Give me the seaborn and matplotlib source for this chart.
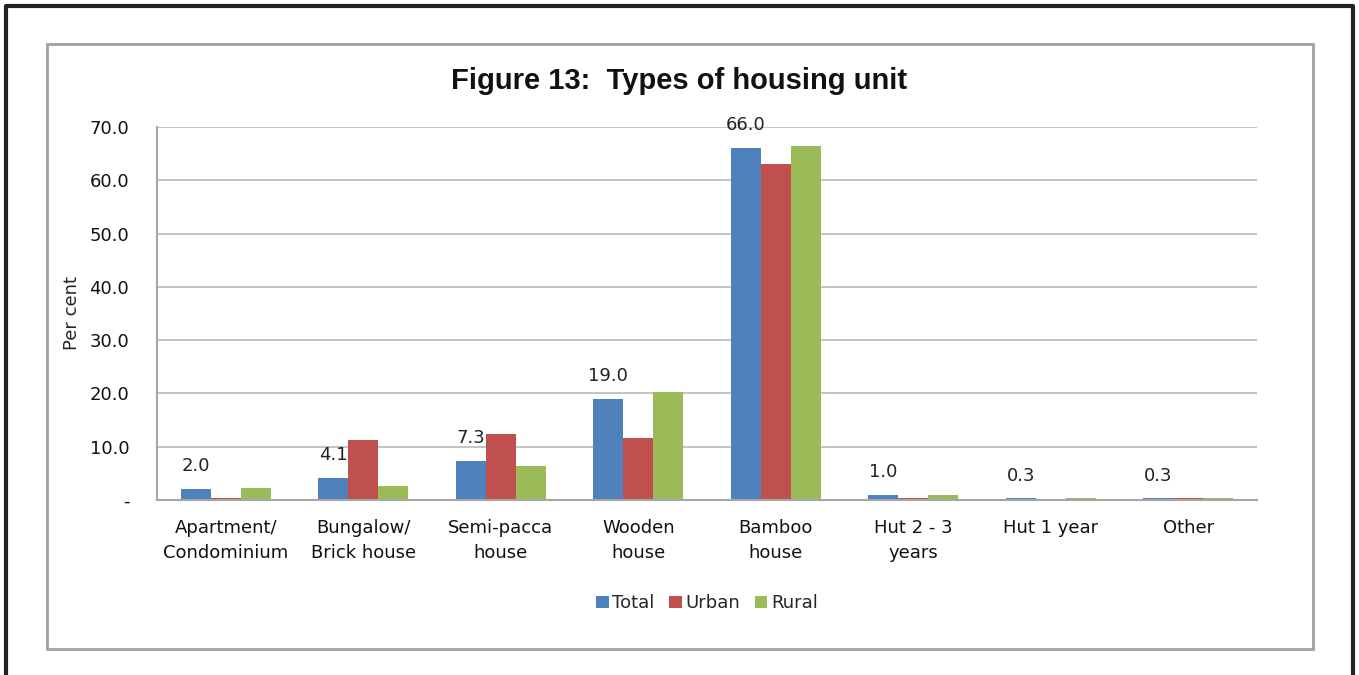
import seaborn as sns
import pandas as pd
from matplotlib import pyplot as plt
from matplotlib.patches import Rectangle
from matplotlib.lines import Line2D

# Data
categories = ['Apartment/\nCondominium', 'Bungalow/\nBrick house', 'Semi-pacca\nhouse',
              'Wooden\nhouse', 'Bamboo\nhouse', 'Hut 2 - 3\nyears', 'Hut 1 year', 'Other']
total = [2.0, 4.1, 7.3, 19.0, 66.0, 1.0, 0.3, 0.3]
urban = [0.4, 11.2, 12.4, 11.6, 63.1, 0.4, 0.05, 0.3]
rural = [2.3, 2.7, 6.4, 20.3, 66.5, 0.9, 0.3, 0.3]
series = ['Total', 'Urban', 'Rural']
yticks = [0, 10, 20, 30, 40, 50, 60, 70]

df = pd.DataFrame({
    'Type': categories * 3,
    'Area': [s for s in series for _ in categories],
    'Value': total + urban + rural,
})

sns.set_style('white')
plt.rcParams['font.family'] = ['DejaVu Sans']
fs = 13

fig = plt.figure(figsize=(13.59, 6.75), dpi=100)
ax = fig.add_axes([157 / 1359, 1 - 500 / 675, 1100 / 1359, 373 / 675])

palette = {'Total': '#4F81BD', 'Urban': '#C0504D', 'Rural': '#9BBB59'}
sns.barplot(data=df, x='Type', y='Value', hue='Area', palette=palette,
            width=0.655, ax=ax, saturation=1, linewidth=0, legend=True)

# data labels on Total only
ax.bar_label(ax.containers[0], fmt='%.1f', padding=10, fontsize=fs, color='#222222')

ax.set_ylim(0, 70)
ax.set_yticks(yticks)
ax.set_yticklabels(['-' if v == 0 else f'{v:.1f}' for v in yticks])
ax.yaxis.grid(True, color='#BFBFBF', linewidth=1.3)
ax.set_axisbelow(True)
ax.tick_params(axis='y', length=0, pad=20, labelsize=fs, labelcolor='#111111')
ax.tick_params(axis='x', length=0, pad=14, labelsize=fs, labelcolor='#111111')
for lbl in ax.get_xticklabels():
    lbl.set_linespacing(1.5)
ax.set_xlabel('')
ax.set_ylabel('Per cent', fontsize=fs, labelpad=6)
for side in ['top', 'right']:
    ax.spines[side].set_visible(False)
for side in ['left', 'bottom']:
    ax.spines[side].set_color('#A6A6A6')
    ax.spines[side].set_linewidth(1.5)

ax.legend(loc='center', bbox_to_anchor=(0.5, -0.277), ncol=3, frameon=False,
          fontsize=fs, handlelength=0.7, handleheight=0.7, handletextpad=0.2,
          columnspacing=0.8)

fig.text(0.5, 1 - 81 / 675, 'Figure 13:  Types of housing unit', ha='center', va='center',
         fontsize=21, fontweight='bold', family='Liberation Sans', color='#111111')

# chart frame and outer border
fig.patches.append(Rectangle((47 / 1359, 1 - 649 / 675), 1266 / 1359, 605 / 675,
                             transform=fig.transFigure, fill=False,
                             edgecolor='#A0A0A0', linewidth=2))
fig.lines.append(Line2D([6 / 1359, 6 / 1359, 1353 / 1359, 1353 / 1359],
                        [0, 1 - 6 / 675, 1 - 6 / 675, 0],
                        transform=fig.transFigure, color='#222222', linewidth=3))

fig.savefig('out.png', dpi=100)
